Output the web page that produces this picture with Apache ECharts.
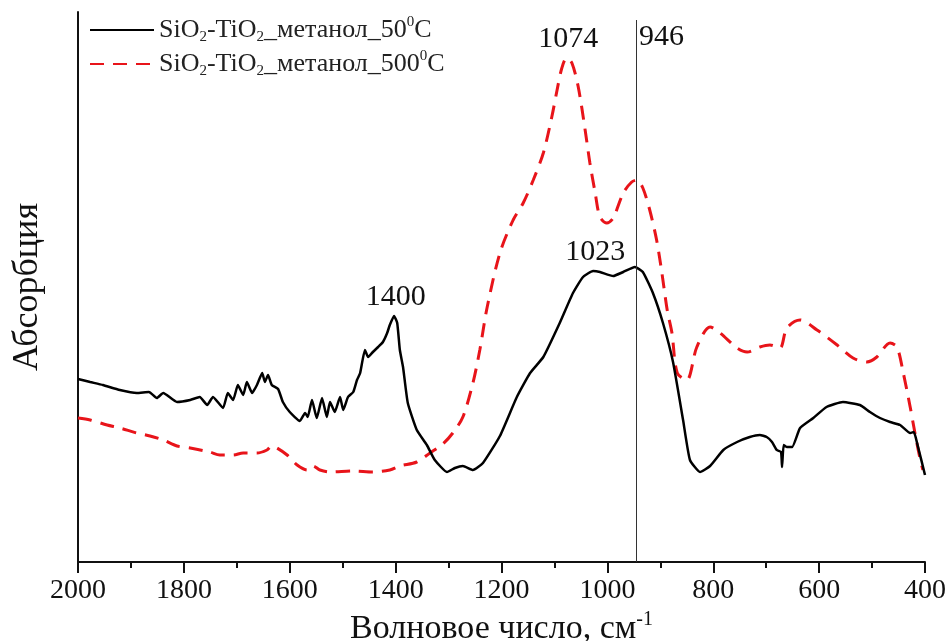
<!DOCTYPE html>
<html>
<head>
<meta charset="utf-8">
<script src="https://cdn.jsdelivr.net/npm/echarts@6/dist/echarts.min.js"></script>
<style>
  html, body { margin: 0; padding: 0; background: #fff; overflow: hidden; }
  #chart { width: 951px; height: 641px; }
</style>
</head>
<body>
<div id="chart"></div>
<script>
var FONT = "'Liberation Serif', 'Times New Roman', serif";

// wavenumbers (cm-1) and absorbance (arb. units)
var wn50 = [2000, 1977, 1953, 1921, 1889, 1866, 1851, 1839, 1813, 1788, 1770, 1756, 1745, 1726, 1717, 1707, 1698, 1688, 1681, 1671,
    1662, 1652, 1647, 1641, 1634, 1622, 1613, 1600, 1581, 1571, 1566, 1558, 1549, 1539, 1530, 1524, 1515, 1505, 1499, 1490,
    1480, 1473, 1467, 1458, 1452, 1443, 1433, 1424, 1416, 1411, 1403, 1397, 1392, 1386, 1377, 1360, 1341, 1326, 1303, 1288,
    1273, 1254, 1235, 1203, 1171, 1146, 1121, 1090, 1065, 1046, 1027, 1014, 989, 970, 948, 933, 914, 895, 876, 857,
    844, 825, 806, 781, 755, 731, 712, 699, 689, 680, 672, 670, 667, 661, 651, 636, 611, 586, 555, 523,
    504, 485, 466, 447, 428, 421, 415, 400];
var abs50 = [183, 180, 177, 172, 169, 170, 164, 169, 160, 162, 165, 157, 165, 154, 169, 162, 177, 167, 180, 169,
    177, 189, 180, 187, 177, 173, 160, 150, 141, 149, 145, 162, 144, 164, 145, 160, 150, 165, 152, 165,
    170, 182, 189, 212, 205, 210, 215, 220, 229, 237, 246, 239, 212, 195, 159, 132, 117, 102, 90, 94,
    96, 92, 99, 126, 165, 189, 205, 239, 269, 285, 291, 290, 286, 290, 295, 290, 269, 239, 200, 142,
    102, 90, 96, 112, 120, 125, 127, 125, 120, 112, 110, 95, 117, 115, 115, 134, 144, 155, 160, 157,
    150, 144, 140, 137, 129, 130, 119, 87];

var wn500 = [2000, 1977, 1945, 1921, 1889, 1864, 1839, 1813, 1788, 1751, 1732, 1707, 1688, 1662, 1643, 1634, 1624, 1605, 1586, 1567,
    1556, 1543, 1524, 1480, 1443, 1411, 1392, 1360, 1335, 1311, 1292, 1273, 1254, 1241, 1227, 1203, 1178, 1159, 1140, 1121,
    1105, 1095, 1086, 1077, 1067, 1055, 1042, 1033, 1023, 1014, 1001, 989, 970, 954, 944, 933, 920, 907, 897, 887,
    878, 868, 850, 831, 806, 787, 755, 736, 712, 693, 674, 661, 636, 604, 566, 536, 510, 491, 466, 453,
    441, 428, 419, 410, 404];
var abs500 = [144, 142, 137, 134, 129, 126, 122, 116, 114, 110, 107, 107, 109, 109, 112, 116, 114, 107, 97, 92,
    96, 92, 90, 91, 90, 92, 96, 100, 109, 118, 129, 145, 179, 212, 255, 309, 342, 359, 382, 409,
    445, 472, 494, 504, 499, 475, 432, 399, 369, 345, 339, 344, 369, 380, 382, 374, 352, 322, 289, 252,
    229, 189, 182, 215, 235, 229, 214, 210, 215, 217, 214, 234, 242, 232, 217, 204, 200, 205, 219, 215,
    189, 155, 129, 105, 92];

var seriesNames = ['SiO2-TiO2_метанол_50°C', 'SiO2-TiO2_метанол_500°C'];
var legendRich = [
    '{n|SiO}{s|2}{n|-TiO}{s|2}{n|_метанол_50}{p|0}{n|C}',
    '{n|SiO}{s|2}{n|-TiO}{s|2}{n|_метанол_500}{p|0}{n|C}'
];
var xTicks = { min: 400, max: 2000, step: 200 };

// peak labels: [wavenumber, level, text]
var peaks50 = [[1400, 246, '1400'], [1023, 291, '1023']];
var peaks500 = [[1074, 504, '1074']];
var refLine = 946;

function zip(xs, ys) {
    var out = [];
    for (var i = 0; i < xs.length; i++) out.push([xs[i], ys[i]]);
    return out;
}

function peakMarks(list, dist) {
    return list.map(function (p) {
        return {
            coord: [p[0], p[1]],
            value: p[2],
            label: { show: true, position: 'top', distance: dist, formatter: p[2] }
        };
    });
}

var chart = echarts.init(document.getElementById('chart'));

var option = {
    animation: false,
    backgroundColor: '#fff',
    grid: { left: 78, width: 847, top: 12, height: 550, containLabel: false, outerBoundsMode: 'none' },
    legend: {
        orient: 'vertical',
        left: 84,
        top: 10,
        itemWidth: 64,
        itemHeight: 14,
        itemGap: 4,
        itemStyle: { opacity: 0 },
        data: seriesNames,
        formatter: function (name) {
            return legendRich[seriesNames.indexOf(name)];
        },
        textStyle: {
            fontFamily: FONT,
            color: '#222',
            rich: {
                n: { fontFamily: FONT, fontSize: 26, color: '#222', lineHeight: 28 },
                s: { fontFamily: FONT, fontSize: 15, color: '#222', verticalAlign: 'bottom', lineHeight: 24 },
                p: { fontFamily: FONT, fontSize: 15, color: '#222', verticalAlign: 'top', lineHeight: 30 }
            }
        }
    },
    xAxis: {
        type: 'value',
        inverse: true,
        min: xTicks.min,
        max: xTicks.max,
        interval: xTicks.step,
        name: '{n|Волновое число, см}{p|-1}',
        nameLocation: 'middle',
        nameGap: 39,
        nameTextStyle: {
            rich: {
                n: { fontFamily: FONT, fontSize: 34, color: '#111', lineHeight: 34 },
                p: { fontFamily: FONT, fontSize: 20, color: '#111', verticalAlign: 'top', lineHeight: 38 }
            }
        },
        axisLine: { show: true, lineStyle: { color: '#111', width: 2 } },
        axisTick: { show: true, inside: false, length: 11, lineStyle: { color: '#111', width: 2 } },
        minorTick: { show: true, splitNumber: 2, length: 6, lineStyle: { color: '#111', width: 2 } },
        axisLabel: {
            fontFamily: FONT, fontSize: 28, color: '#111', margin: 15,
            formatter: function (v) { return String(v); }
        },
        splitLine: { show: false }
    },
    yAxis: {
        type: 'value',
        min: 0,
        max: 550,
        name: 'Абсорбция',
        nameLocation: 'middle',
        nameGap: 32,
        nameRotate: 90,
        nameTextStyle: { fontFamily: FONT, fontSize: 36, color: '#111' },
        axisLine: { show: true, lineStyle: { color: '#111', width: 2 } },
        axisTick: { show: false },
        axisLabel: { show: false },
        splitLine: { show: false }
    },
    series: [
        {
            name: seriesNames[0],
            type: 'line',
            data: zip(wn50, abs50),
            symbol: 'none',
            smooth: 0.15,
            z: 3,
            lineStyle: { color: '#000', width: 2.5 },
            itemStyle: { color: '#000' },
            markPoint: {
                symbol: 'circle',
                symbolSize: 0,
                label: { fontFamily: FONT, fontSize: 30, color: '#111' },
                data: peakMarks(peaks50, 4).concat([{
                    coord: [refLine, 525],
                    value: String(refLine),
                    label: { show: true, position: 'right', distance: 3, formatter: String(refLine) }
                }])
            },
            markLine: {
                silent: true,
                symbol: 'none',
                label: { show: false },
                lineStyle: { color: '#333', width: 1, type: 'solid' },
                data: [[{ coord: [refLine, 0] }, { coord: [refLine, 542] }]]
            }
        },
        {
            name: seriesNames[1],
            type: 'line',
            data: zip(wn500, abs500),
            symbol: 'none',
            smooth: 0.3,
            z: 2,
            lineStyle: { color: '#e8141a', width: 3, type: [14, 9] },
            itemStyle: { color: '#e8141a' },
            markPoint: {
                symbol: 'circle',
                symbolSize: 0,
                label: { fontFamily: FONT, fontSize: 30, color: '#111' },
                data: peakMarks(peaks500, 4)
            }
        }
    ]
};

chart.setOption(option);
</script>
</body>
</html>
